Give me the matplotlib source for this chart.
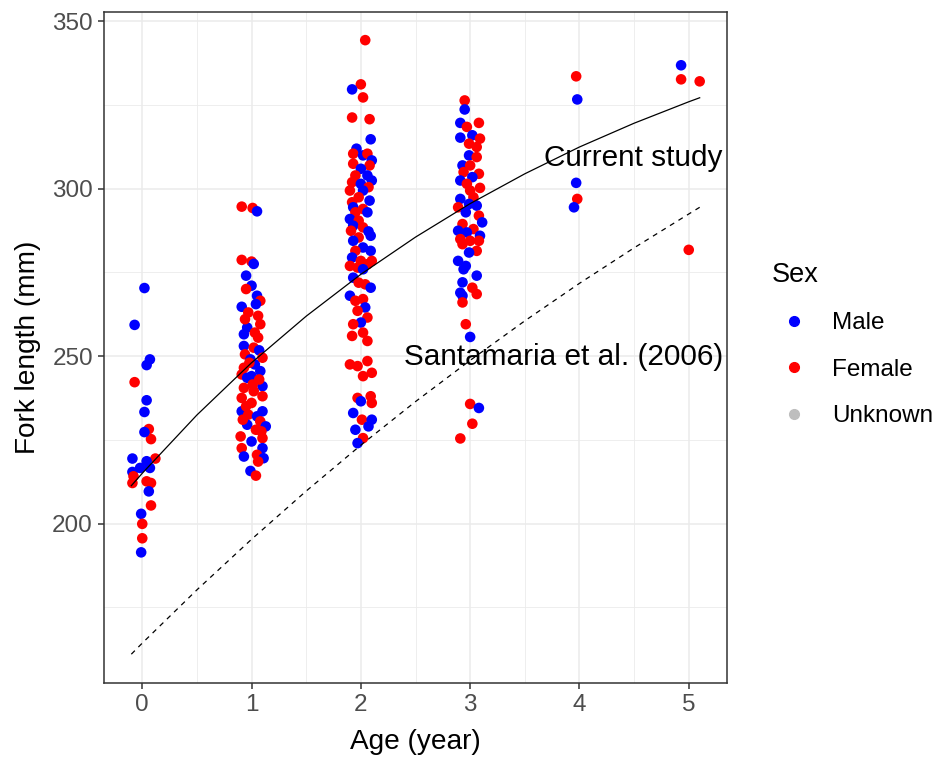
import numpy as np
import matplotlib
matplotlib.use("Agg")
from matplotlib import pyplot as plt
from matplotlib.lines import Line2D

plt.rcParams['font.family'] = ['Liberation Sans', 'DejaVu Sans']

# --- data ---
# age 0
age0_x = [0.02, -0.07, 0.07, 0.04, -0.07, 0.04, 0.02, 0.06, 0.08, 0.02, -0.09, 0.12, 0.04,
          0.07, -0.09, -0.08, -0.09, -0.02, 0.04, 0.08, 0.06, 0.08, -0.01, 0.00, 0.00, -0.01]
age0_y = [270.3, 259.3, 249.0, 247.3, 242.2, 236.8, 233.3, 228.2, 225.2, 227.3, 219.4, 219.4, 218.6,
          216.6, 215.4, 214.1, 212.1, 216.6, 212.6, 212.1, 209.6, 205.4, 202.9, 199.9, 195.6, 191.4]
age0_sex = ['M', 'M', 'M', 'M', 'F', 'M', 'M', 'F', 'F', 'M', 'M', 'F', 'M',
            'M', 'M', 'F', 'F', 'M', 'F', 'F', 'M', 'F', 'M', 'F', 'F', 'M']

# age 1
age1_x = [0.91, 1.01, 1.05, 0.91, 1.00, 1.02, 0.95, 1.00, 0.95, 1.05, 1.08, 0.91, 1.04, 0.97,
          1.08, 0.96, 0.93, 1.06, 0.93, 1.02, 1.07, 0.94, 0.99, 1.03, 1.10, 1.08, 0.91, 0.96,
          1.00, 0.93, 1.10, 1.02, 1.10, 0.91, 1.00, 0.91, 1.10, 0.97, 1.05, 1.08, 0.96, 1.13,
          0.90, 1.10, 1.00, 1.10, 0.91, 0.93, 1.05, 1.11, 1.06, 0.99, 1.04,
          0.94, 1.03, 1.07, 0.98, 0.92, 1.09, 1.01, 0.95, 1.06, 0.93, 1.04]
age1_y = [294.6, 294.2, 293.2, 278.7, 278.2, 277.5, 274.0, 271.0, 270.0, 268.0, 266.5, 264.7, 265.5, 263.0,
          259.5, 258.5, 256.5, 255.5, 253.0, 252.5, 251.7, 250.5, 249.0, 247.5, 249.5, 245.5, 244.5, 243.5,
          244.0, 240.5, 241.0, 239.5, 238.0, 237.5, 236.0, 233.5, 233.5, 232.5, 232.0, 230.5, 229.5, 229.0,
          226.0, 225.5, 224.5, 222.5, 222.5, 220.0, 220.5, 219.5, 218.5, 215.7, 214.3,
          261.0, 257.0, 243.0, 248.0, 231.0, 227.5, 241.5, 235.0, 262.0, 246.5, 228.0]
age1_sex = ['F', 'F', 'M', 'F', 'F', 'M', 'M', 'M', 'F', 'M', 'F', 'M', 'M', 'F',
            'F', 'M', 'M', 'F', 'M', 'F', 'M', 'F', 'M', 'M', 'F', 'M', 'F', 'M',
            'M', 'F', 'M', 'F', 'F', 'F', 'F', 'M', 'M', 'F', 'M', 'F', 'M', 'M',
            'F', 'F', 'M', 'M', 'F', 'M', 'F', 'M', 'F', 'M', 'F',
            'F', 'F', 'F', 'F', 'F', 'F', 'F', 'F', 'F', 'F', 'F']

# age 2
age2_x = [2.04, 2.00, 1.92, 2.02, 1.92, 2.08, 2.09, 1.96, 1.93, 2.02, 2.06, 2.10, 2.08, 1.93,
          2.00, 1.95, 2.06, 2.10, 1.92, 2.00, 2.07, 2.02, 1.90, 1.98, 2.08, 1.92, 1.93, 2.02,
          2.06, 1.95, 1.90, 1.98, 1.93, 2.02, 2.07, 2.09, 1.91, 1.98, 1.93, 2.02, 2.09, 1.95,
          1.92, 2.00, 1.90, 2.06, 2.10, 1.97, 2.02, 1.93, 1.98, 2.04, 2.09, 1.90, 1.95, 2.02,
          2.04, 1.97, 2.06, 2.00, 1.93, 2.02, 1.92, 2.06, 1.90, 1.97, 2.06, 2.10, 2.02, 1.97,
          2.09, 2.00, 2.10, 1.93, 2.01, 2.10, 1.95, 2.07, 2.02, 1.97]
age2_y = [344.3, 331.1, 329.6, 327.2, 321.2, 320.7, 314.7, 311.9, 310.4, 309.9, 310.4, 308.4, 306.9, 307.4,
          305.9, 303.9, 303.9, 302.4, 301.9, 301.4, 300.4, 299.4, 299.4, 297.4, 296.4, 295.9, 294.4, 293.9,
          292.9, 292.9, 290.9, 290.4, 288.9, 288.4, 287.2, 285.9, 287.4, 285.4, 284.4, 282.4, 281.4, 281.4,
          279.4, 278.4, 276.9, 277.4, 278.4, 276.4, 275.9, 273.4, 271.9, 271.4, 270.4, 268.0, 266.5, 267.0,
          264.5, 263.5, 261.5, 260.0, 259.5, 257.0, 256.0, 254.5, 247.5, 247.0, 248.5, 245.0, 244.0, 237.5,
          238.0, 236.5, 236.0, 233.0, 231.0, 231.0, 228.0, 229.0, 225.5, 224.0]
age2_sex = ['F', 'F', 'M', 'F', 'F', 'F', 'M', 'M', 'F', 'M', 'F', 'M', 'F', 'F',
            'M', 'F', 'M', 'M', 'F', 'M', 'F', 'M', 'F', 'F', 'M', 'F', 'M', 'F',
            'M', 'F', 'M', 'F', 'M', 'F', 'M', 'M', 'F', 'F', 'M', 'M', 'M', 'F',
            'M', 'F', 'F', 'F', 'F', 'F', 'M', 'M', 'F', 'F', 'M', 'M', 'F', 'F',
            'M', 'F', 'F', 'M', 'F', 'F', 'F', 'F', 'F', 'F', 'F', 'F', 'F', 'F',
            'F', 'M', 'F', 'M', 'F', 'M', 'M', 'M', 'F', 'M']

# age 3
age3_x = [2.95, 2.95, 2.91, 3.08, 2.97, 2.91, 3.02, 3.09, 2.99, 3.06, 2.99, 3.06, 2.93, 3.00,
          2.94, 3.08, 3.02, 2.91, 2.97, 3.09, 3.00, 2.91, 3.03, 2.89, 2.99, 3.06, 2.96, 3.08,
          2.93, 3.11, 2.89, 3.03, 3.09, 2.97, 2.91, 3.00, 3.08, 2.93, 3.06, 2.99, 2.89, 2.96,
          2.94, 3.06, 2.93, 3.02, 3.06, 2.91, 2.93, 2.93, 2.96, 3.00, 3.00, 3.08, 3.02, 2.91]
age3_y = [326.3, 323.6, 319.6, 319.6, 318.4, 315.2, 315.9, 314.9, 313.4, 312.4, 309.9, 309.4, 306.9, 306.9,
          304.9, 304.4, 303.4, 302.4, 301.4, 300.2, 299.4, 296.9, 297.4, 294.4, 295.4, 294.9, 292.9, 291.9,
          289.4, 289.9, 287.4, 287.9, 285.9, 286.9, 284.9, 284.4, 284.4, 283.4, 281.4, 280.9, 278.4, 276.9,
          275.9, 274.0, 272.0, 270.4, 268.5, 268.9, 268.0, 266.0, 259.5, 255.7, 235.7, 234.5, 229.8, 225.4]
age3_sex = ['F', 'M', 'M', 'F', 'F', 'M', 'M', 'F', 'F', 'F', 'M', 'F', 'M', 'F',
            'F', 'F', 'M', 'M', 'F', 'F', 'F', 'M', 'F', 'F', 'M', 'M', 'M', 'F',
            'F', 'M', 'M', 'F', 'M', 'M', 'F', 'F', 'F', 'F', 'F', 'M', 'M', 'M',
            'M', 'M', 'M', 'F', 'F', 'M', 'M', 'F', 'F', 'M', 'F', 'M', 'F', 'F']

# ages 4 and 5
age45_x = [3.97, 3.98, 3.97, 3.98, 3.95, 4.93, 4.93, 5.10, 5.00]
age45_y = [333.5, 326.6, 301.7, 296.9, 294.4, 336.8, 332.6, 332.0, 281.7]
age45_sex = ['F', 'M', 'M', 'F', 'M', 'M', 'F', 'F', 'F']

# growth curves
curve_age = [-0.1, 0.0, 0.5, 1.0, 1.5, 2.0, 2.5, 3.0, 3.5, 4.0, 4.5, 5.0, 5.1]
current_len = [211.3, 215.0, 232.4, 248.0, 261.9, 274.4, 285.5, 295.5, 304.4, 312.4, 319.5, 325.9, 327.1]
santamaria_len = [161.0, 164.3, 180.2, 195.3, 209.7, 223.4, 236.4, 248.7, 260.5, 271.7, 282.3, 292.4, 294.4]

sex_colors = {'M': '#0000FF', 'F': '#FF0000', 'U': '#BEBEBE'}
sex_labels = ['Male', 'Female', 'Unknown']

ages = age0_x + age1_x + age2_x + age3_x + age45_x
lengths = age0_y + age1_y + age2_y + age3_y + age45_y
sexes = age0_sex + age1_sex + age2_sex + age3_sex + age45_sex

# --- figure ---
fig = plt.figure(figsize=(9.4, 7.63), dpi=100)
ax = fig.add_axes([104 / 940, 80 / 763, 623 / 940, 671 / 763])

ax.scatter(ages, lengths, c=[sex_colors[s] for s in sexes], s=58, linewidths=0, zorder=3)
ax.plot(curve_age, current_len, color='black', lw=0.9, zorder=4)
ax.plot(curve_age, santamaria_len, color='black', lw=0.9, ls=(0, (4, 4)), zorder=4)

ax.text(5.31, 309.0, 'Current study', ha='right', va='center', fontsize=21.4, zorder=5)
ax.text(5.32, 249.7, 'Santamaria et al. (2006)', ha='right', va='center', fontsize=21.4, zorder=5)

ax.set_xlim(-0.35, 5.35)
ax.set_ylim(152.4, 352.7)
ax.set_xticks([0, 1, 2, 3, 4, 5])
ax.set_yticks([200, 250, 300, 350])
ax.set_xticks(np.arange(0.5, 5.0, 1.0), minor=True)
ax.set_yticks([175, 225, 275, 325], minor=True)
ax.grid(which='major', color='#EBEBEB', lw=1.1, zorder=0)
ax.grid(which='minor', color='#EBEBEB', lw=0.6, zorder=0)
ax.set_axisbelow(True)

for sp in ax.spines.values():
    sp.set_color('#333333')
    sp.set_linewidth(1.1)
ax.tick_params(which='major', direction='out', length=4, width=1.1, color='#333333',
               labelsize=17.5, labelcolor='#4D4D4D', pad=4)
ax.tick_params(which='minor', length=0)

ax.set_xlabel('Age (year)', fontsize=20.2, labelpad=9)
ax.set_ylabel('Fork length (mm)', fontsize=20.2, labelpad=8)

handles = [Line2D([], [], marker='o', ls='none', color=sex_colors[k], markersize=7)
           for k in ['M', 'F', 'U']]
leg = fig.legend(handles, sex_labels, title='Sex', loc='upper left',
                 bbox_to_anchor=(743 / 940, 1 - 233 / 763), frameon=False,
                 fontsize=17.5, title_fontsize=19.5, handletextpad=0.7,
                 labelspacing=1.0, handlelength=1.78, borderpad=0.7, alignment='left')

fig.savefig('out.png', dpi=100)
